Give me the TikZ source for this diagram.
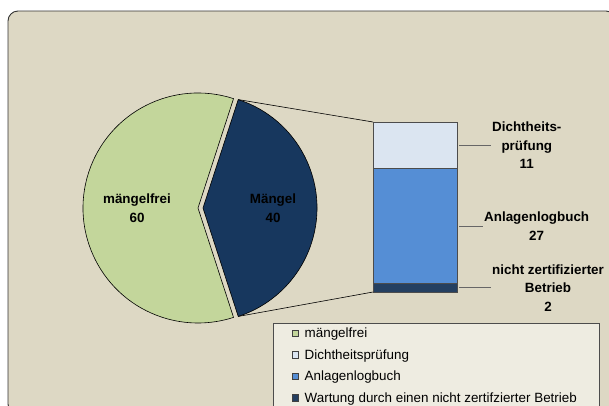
\documentclass[tikz,border=0pt]{standalone}
\usepackage{fontspec}
\setmainfont{Liberation Sans}
\usetikzlibrary{positioning}

\definecolor{chartback}{HTML}{DDD8C4}
\definecolor{legendback}{HTML}{EEECE1}
\definecolor{chartgreen}{HTML}{C3D69B}
\definecolor{chartnavy}{HTML}{17375E}
\definecolor{lightblue}{HTML}{DBE5F1}
\definecolor{midblue}{HTML}{558ED5}
\definecolor{darkseg}{HTML}{243F60}

\begin{document}
\begin{tikzpicture}[x=1pt, y=-1pt]
			\tikzset {frame/.style={draw=black!80, line width=0.9pt, fill=chartback, rounded corners=10pt},
				slice/.style={draw=black, line width=0.6pt},
				seg/.style={draw=black!70, line width=0.6pt, minimum width=84pt, inner sep=0pt, outer sep=0pt},
				slicelabel/.style={font=\bfseries\fontsize{13.4}{18.5}\selectfont, align=center, inner sep=1pt},
				leader/.style={draw=black!60, line width=0.8pt},
				zoomline/.style={draw=black, line width=0.6pt},
				legkey/.style={draw=black!75, line width=0.5pt, minimum size=6.5pt, inner sep=0pt},
				legtext/.style={font=\fontsize{13.4}{16}\selectfont, inner sep=0pt, anchor=base west}}

			\useasboundingbox (0,0) rectangle (609,405);
			\clip (0,0) rectangle (609,405);
			\fill[white] (0,0) rectangle (609,405);
			\draw[frame] (8,11) rectangle (616,414);

			\coordinate (free) at (198,208);
			\coordinate (defect) at (203,208);
			\draw[slice, fill=chartgreen] (free) -- ++(72:115pt) arc[start angle=72, end angle=288, radius=115pt] -- cycle;
			\draw[slice, fill=chartnavy] (defect) -- ++(72:114pt) coordinate (dtop) arc[start angle=72, end angle=-72, radius=114pt] coordinate (dbot) -- cycle;

			\node[slicelabel] (freelabel) at (137,208) {mängelfrei\\60};
			\node[slicelabel] (defectlabel) at (273,208) {Mängel\\40};

			\node[seg, fill=lightblue, minimum height=46.75pt, anchor=north west] (dicht) at (373,122) {};
			\node[seg, fill=midblue, minimum height=114.75pt, below=0pt of dicht] (logbuch) {};
			\node[seg, fill=darkseg, minimum height=8.5pt, below=0pt of logbuch] (betrieb) {};

			\draw[zoomline] (dtop) -- (dicht.north west);
			\draw[zoomline] (dbot) -- (betrieb.south west);

			\node[slicelabel, right=34pt of dicht] (dichtlabel) {Dichtheits-\\prüfung\\11};
			\node[slicelabel, right=26pt of logbuch] (logbuchlabel) {Anlagenlogbuch\\27};
			\node[slicelabel, right=34pt of betrieb] (betrieblabel) {nicht zertifizierter\\Betrieb\\2};

			\draw[leader] ([xshift=2pt]dicht.east) -- (dichtlabel.west);
			\draw[leader] ([xshift=2pt]logbuch.east) -- (logbuchlabel.west);
			\draw[leader] ([xshift=2pt]betrieb.east) -- (betrieblabel.west);

			\node[draw=black!70, fill=legendback, line width=0.6pt, minimum width=326pt, minimum height=95pt, inner sep=0pt, anchor=north west] (legend) at (273,323) {};
			\node[legkey, fill=chartgreen] (key1) at (295,333) {};
			\node[legkey, fill=lightblue, below=14.5pt of key1] (key2) {};
			\node[legkey, fill=midblue, below=14.5pt of key2] (key3) {};
			\node[legkey, fill=darkseg, below=14.5pt of key3] (key4) {};
			\node[legtext] (entry1) at ([xshift=6pt, yshift=-4.8pt]key1.east) {mängelfrei};
			\node[legtext] (entry2) at ([xshift=6pt, yshift=-4.8pt]key2.east) {Dichtheitsprüfung};
			\node[legtext] (entry3) at ([xshift=6pt, yshift=-4.8pt]key3.east) {Anlagenlogbuch};
			\node[legtext] (entry4) at ([xshift=6pt, yshift=-4.8pt]key4.east) {Wartung durch einen nicht zertifzierter Betrieb};
\end{tikzpicture}
\end{document}
